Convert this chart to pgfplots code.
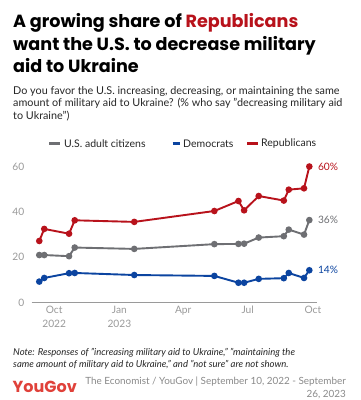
\documentclass[border=0pt]{standalone}
\usepackage{fontspec}
\setmainfont{Lato}
\newfontfamily\titlefont{Poppins}
\usepackage{pgfplots}
\pgfplotsset{compat=1.18}
\definecolor{rep}{HTML}{B8121B}
\definecolor{dem}{HTML}{0B44A0}
\definecolor{usa}{HTML}{6E6F73}
\definecolor{ygred}{HTML}{E0413A}
\definecolor{ticktext}{HTML}{9A9A9A}
\definecolor{gridc}{HTML}{E6E6E6}
\definecolor{srcgray}{HTML}{8A8A8A}
\begin{document}
\begin{tikzpicture}[x=1pt,y=1pt]
\useasboundingbox (0,0) rectangle (360,-400);
\fill[white] (0,0) rectangle (360,-400);
% title
\begin{scope}[every node/.style={anchor=base west, inner sep=0pt, font=\titlefont\bfseries\fontsize{17.6}{22}\selectfont}]
\node at (13,-27.5) {A growing share of \textcolor{rep}{Republicans}};
\node at (13,-50) {want the U.S. to decrease military};
\node at (13,-72.5) {aid to Ukraine};
\end{scope}
% subtitle
\begin{scope}[every node/.style={anchor=base west, inner sep=0pt, font=\fontsize{10.8}{12.5}\selectfont, text=black!85}]
\node at (13,-94) {Do you favor the U.S. increasing, decreasing, or maintaining the same};
\node at (13,-106.5) {amount of military aid to Ukraine? (\% who say "decreasing military aid};
\node at (13,-119) {to Ukraine")};
\end{scope}
% legend
\begin{scope}[every node/.style={anchor=west, inner sep=0pt, font=\fontsize{10.5}{12}\selectfont, text=black!85}]
\draw[usa, line width=2.2pt] (49,-143.5) -- (60,-143.5);
\node at (64,-143.5) {U.S. adult citizens};
\draw[dem, line width=2.2pt] (172.5,-143.5) -- (180,-143.5);
\node at (183,-143.5) {Democrats};
\draw[rep, line width=2.2pt] (247,-143.5) -- (258,-143.5);
\node at (261,-143.5) {Republicans};
\end{scope}
\begin{axis}[
  at={(31.7pt,-302.7pt)}, anchor=south west,
  scale only axis, width=285pt, height=136.2pt,
  xmin=-31.7, xmax=370.4, ymin=0, ymax=60,
  clip=false,
  axis x line*=bottom, axis y line=none,
  x axis line style={draw=ticktext, line width=0.9pt, -},
  ytick={20,40,60}, ymajorgrids, grid style={gridc, line width=0.7pt},
  xtick={0,92,182,273,365},
  xticklabels={Oct\\2022, Jan\\2023, Apr, Jul, Oct},
  xticklabel style={align=center, text=ticktext, font=\fontsize{10.2}{14}\selectfont},
  major tick length=0pt,
  every axis plot/.append style={line width=1.9pt, mark=*, mark size=2.3pt},
]
\addplot[usa, mark options={fill=usa}] coordinates {
(-21,21.0) (-14,21.0) (21,20.5) (29,24.3) (113,23.7) (226,25.8) (260,25.9) (268,26.0) (288.6,28.7) (324,29.3) (331,32.2) (352.5,30.0) (360,36.4)};
\addplot[dem, mark options={fill=dem}] coordinates {
(-21,9.3) (-14,10.9) (21,13.0) (29,13.1) (113,12.2) (226,11.8) (260,8.8) (268,8.8) (288.6,10.5) (324,10.8) (331,13.1) (352.5,10.9) (360,14.3)};
\addplot[rep, mark options={fill=rep}] coordinates {
(-21,27.2) (-14,32.5) (21,30.4) (29,36.3) (113,35.6) (226,40.4) (260,44.8) (268,40.7) (288.6,47.0) (324,45.0) (331,49.8) (352.5,50.4) (360,60.0)};
% y tick labels
\node[anchor=east, inner sep=0pt, text=ticktext, font=\fontsize{10.2}{12}\selectfont] at (axis cs:-42,0) {0};
\node[anchor=east, inner sep=0pt, text=ticktext, font=\fontsize{10.2}{12}\selectfont] at (axis cs:-42,20) {20};
\node[anchor=east, inner sep=0pt, text=ticktext, font=\fontsize{10.2}{12}\selectfont] at (axis cs:-42,40) {40};
\node[anchor=east, inner sep=0pt, text=ticktext, font=\fontsize{10.2}{12}\selectfont] at (axis cs:-42,60) {60};
\node[anchor=west, inner sep=0pt, text=rep, font=\fontsize{10.2}{12}\selectfont] at (axis cs:372,60) {60\%};
\node[anchor=west, inner sep=0pt, text=usa, font=\fontsize{10.2}{12}\selectfont] at (axis cs:372,36.4) {36\%};
\node[anchor=west, inner sep=0pt, text=dem, font=\fontsize{10.2}{12}\selectfont] at (axis cs:372,14.3) {14\%};
\end{axis}
% note
\begin{scope}[every node/.style={anchor=base west, inner sep=0pt, font=\itshape\fontsize{9.5}{12}\selectfont, text=black!85}]
\node at (13,-355.5) {Note: Responses of "increasing military aid to Ukraine," "maintaining the};
\node at (13,-367.5) {same amount of military aid to Ukraine," and "not sure" are not shown.};
\end{scope}
\node[anchor=base west, inner sep=0pt, font=\titlefont\bfseries\fontsize{16}{18}\selectfont, text=ygred] at (12.5,-392.5) {YouGov};
\begin{scope}[every node/.style={anchor=base east, inner sep=0pt, font=\fontsize{9.9}{12}\selectfont, text=srcgray}]
\node at (346,-384.5) {The Economist / YouGov | September 10, 2022 - September};
\node at (346,-397) {26, 2023};
\end{scope}
\end{tikzpicture}
\end{document}
